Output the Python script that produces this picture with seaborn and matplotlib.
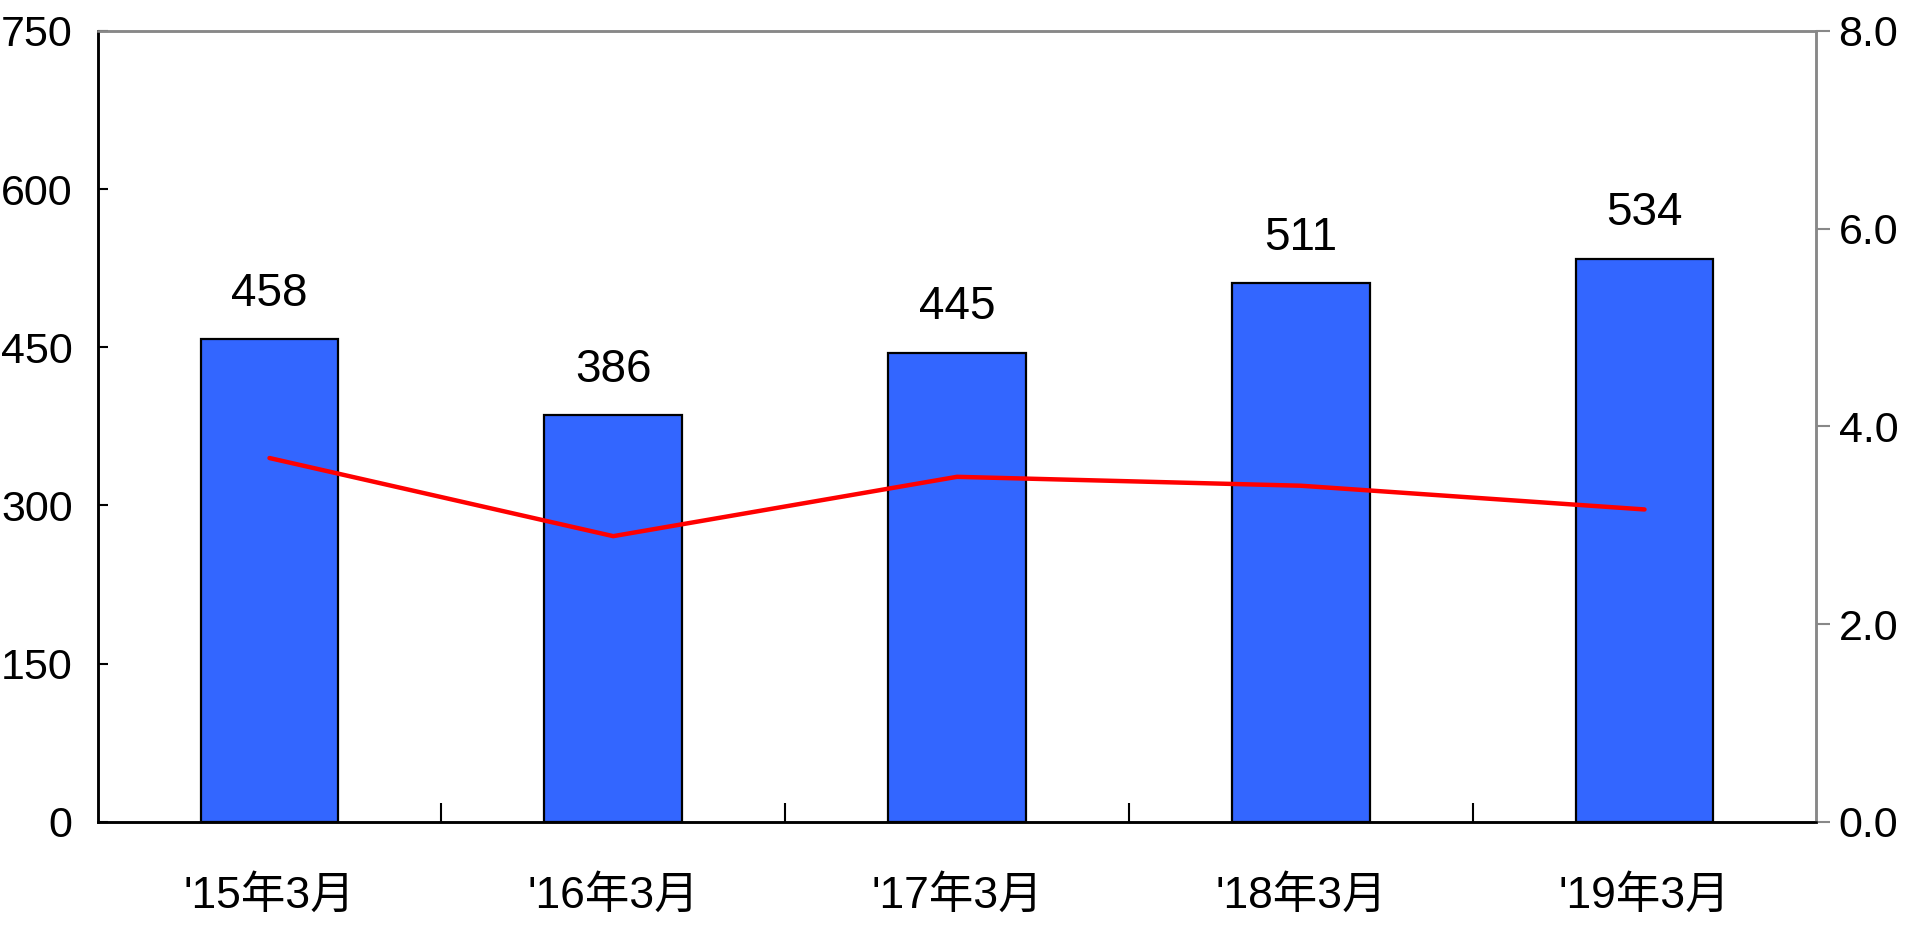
import numpy as np
import pandas as pd
import matplotlib
matplotlib.use("Agg")
import matplotlib.pyplot as plt
from matplotlib import font_manager
import seaborn as sns

# データ
periods = ["'15年3月", "'16年3月", "'17年3月", "'18年3月", "'19年3月"]
amounts = [458, 386, 445, 511, 534]
ratios = [3.68, 2.89, 3.49, 3.40, 3.16]

sns.set_theme(style="white")
names = {f.name for f in font_manager.fontManager.ttflist}
base = "Liberation Sans Narrow" if "Liberation Sans Narrow" in names else "Liberation Sans"
plt.rcParams["font.family"] = [base, "Noto Sans CJK JP", "DejaVu Sans"]
plt.rcParams["text.color"] = "black"
plt.rcParams["xtick.color"] = "black"
plt.rcParams["ytick.color"] = "black"

df = pd.DataFrame({"period": periods, "amount": amounts, "ratio": ratios})

fig = plt.figure(figsize=(19.14, 9.33), dpi=100)
ax = fig.add_axes([0.051, 0.119, 0.898, 0.848])

sns.barplot(data=df, x="period", y="amount", color="#3366FF", width=0.4,
            edgecolor="black", linewidth=1.6, saturation=1, ax=ax)
ax.set_ylim(0, 750)
ax.set_xlim(-0.5, 4.5)
ax.set_yticks(np.arange(0, 751, 150))
ax.set_xlabel("")
ax.set_ylabel("")
ax.tick_params(axis="y", direction="in", length=7, width=1.5, labelsize=31,
               pad=18, left=True, labelcolor="black")
ax.tick_params(axis="x", which="major", length=0, labelsize=32, pad=38, labelcolor="black")
ax.set_xticks(np.arange(0.5, 4, 1), minor=True)
ax.tick_params(axis="x", which="minor", direction="in", length=14, width=1.5, bottom=True)

for i, v in enumerate(amounts):
    ax.text(i, v + 22, str(v), ha="center", va="bottom", fontsize=33, color="black")

ax2 = ax.twinx()
sns.lineplot(x=np.arange(len(ratios)), y=ratios, color="#FF0000", linewidth=3.2, ax=ax2)
ax2.set_ylim(0, 8)
ax2.set_yticks(np.arange(0, 8.1, 2))
ax2.set_yticklabels([f"{t:.1f}" for t in np.arange(0, 8.1, 2)])
ax2.tick_params(axis="y", direction="out", length=10, width=1.5, color="#888888",
                labelsize=31, pad=6, right=True, labelcolor="black")

for a in (ax, ax2):
    a.spines["left"].set_color("black")
    a.spines["bottom"].set_color("black")
    a.spines["top"].set_color("#888888")
    a.spines["right"].set_color("#888888")
    for s in a.spines.values():
        s.set_linewidth(1.8)

fig.savefig("out.png", dpi=100)
